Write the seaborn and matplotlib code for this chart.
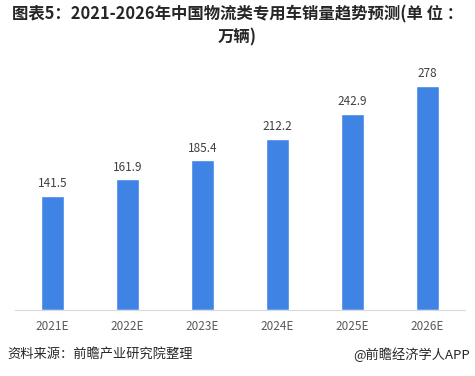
import matplotlib
matplotlib.use("Agg")
import matplotlib.pyplot as plt
import seaborn as sns
import pandas as pd

years = ["2021E", "2022E", "2023E", "2024E", "2025E", "2026E"]
sales = [141.5, 161.9, 185.4, 212.2, 242.9, 278]
value_labels = ["141.5", "161.9", "185.4", "212.2", "242.9", "278"]

df = pd.DataFrame({"year": years, "sales": sales})

sns.set_style("white")
plt.rcParams["font.family"] = ["Noto Sans CJK SC", "DejaVu Sans"]

fig = plt.figure(figsize=(4.75, 3.76), dpi=100)
ax = fig.add_axes([0.0316, 0.1755, 0.9474, 0.665])

sns.barplot(data=df, x="year", y="sales", color="#3F84E5", width=0.31,
            saturation=1, ax=ax)

# value labels above the bars
for i, v in enumerate(sales):
    ax.text(i, v + 7, value_labels[i], ha="center", va="bottom",
            fontsize=8.5, color="#404040")

ax.set_xlim(-0.5, 5.5)
ax.set_ylim(0, 310)
ax.set_yticks([])
ax.set_xlabel("")
ax.set_ylabel("")
ax.tick_params(axis="x", length=0, labelsize=8.5, labelcolor="#595959", pad=7)
for s in ["top", "left", "right"]:
    ax.spines[s].set_visible(False)
ax.spines["bottom"].set_color("#D9D9D9")

fig.text(0.5, 0.962, "图表5：2021-2026年中国物流类专用车销量趋势预测(单 位 ：",
         ha="center", va="center", fontsize=11.8, fontweight="bold", color="#262626")
fig.text(0.5, 0.900, "万辆)", ha="center", va="center", fontsize=11.8,
         fontweight="bold", color="#262626")

fig.text(0.015, 0.058, "资料来源：前瞻产业研究院整理", ha="left", va="center",
         fontsize=9.5, color="#262626")
fig.text(0.99, 0.058, "@前瞻经济学人APP", ha="right", va="center",
         fontsize=9.5, color="#262626")

fig.savefig("out.png", dpi=100, facecolor="white")
